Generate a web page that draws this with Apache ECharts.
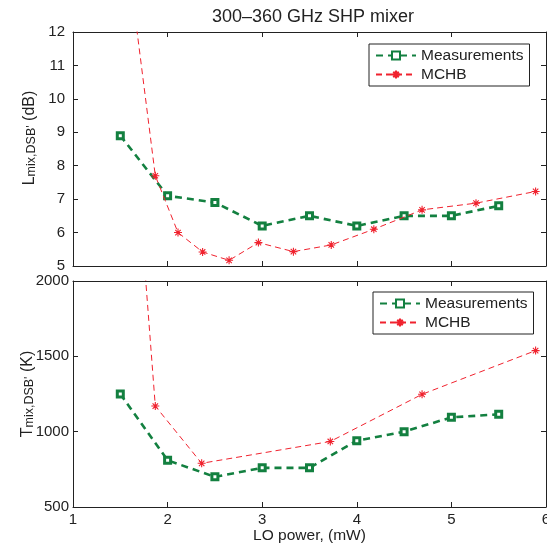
<!DOCTYPE html>
<html>
<head>
<meta charset="utf-8">
<script src="https://cdn.jsdelivr.net/npm/echarts@6/dist/echarts.min.js"></script>
<style>
html,body{margin:0;padding:0;background:#fff;}
#chart{width:547px;height:553px;}
</style>
</head>
<body>
<div id="chart"></div>
<script>
// ---- data ----
const titleText = '300\u2013360 GHz SHP mixer';
const xTicks = [1, 2, 3, 4, 5, 6];
const measX = [1.5, 2, 2.5, 3, 3.5, 4, 4.5, 5, 5.5];
const measLoss = [8.9, 7.1, 6.9, 6.2, 6.5, 6.2, 6.5, 6.5, 6.8];
const measTemp = [1250, 810, 700, 760, 760, 940, 1000, 1095, 1115];
const mchbLossX = [1.66, 1.87, 2.11, 2.37, 2.65, 2.96, 3.33, 3.73, 4.18, 4.69, 5.26, 5.89];
const mchbLoss = [12.4, 7.7, 6.0, 5.42, 5.17, 5.7, 5.43, 5.63, 6.1, 6.68, 6.88, 7.23];
const mchbTempX = [1.66, 1.87, 2.36, 3.72, 4.69, 5.89];
const mchbTemp = [2900, 1170, 790, 935, 1248, 1538];
const seriesNames = ['Measurements', 'MCHB'];

// ---- style ----
const FONT = '"Liberation Sans", Arial, Helvetica, sans-serif';
const GREEN = '#138040';
const RED = '#f0222e';
const AX = '#222';
const STAR = 'path://M5,0L5,10M0,5L10,5M1.6,1.6L8.4,8.4M1.6,8.4L8.4,1.6';

const zip = (xs, ys) => xs.map((x, i) => [x, ys[i]]);

function xAx(grid, pos, showLabels, name) {
  const a = {
    type: 'value', gridIndex: grid, position: pos, min: xTicks[0], max: xTicks[xTicks.length - 1], interval: 1,
    axisLine: {show: true, onZero: false, lineStyle: {color: AX, width: 1}},
    axisTick: {show: true, inside: true, length: 5, lineStyle: {color: AX}},
    axisLabel: {show: showLabels, fontFamily: FONT, fontSize: 15, color: AX, margin: 5,
                formatter: v => String(v)},
    splitLine: {show: false}
  };
  if (name) {
    a.name = name; a.nameLocation = 'middle'; a.nameGap = 21; a.nameMoveOverlap = false;
    a.nameTextStyle = {fontFamily: FONT, fontSize: 15.5, color: AX};
  }
  return a;
}
function yAx(grid, pos, min, max, interval, showLabels, labelMargin, name, gap, shiftUp) {
  const a = {
    type: 'value', gridIndex: grid, position: pos, min: min, max: max, interval: interval,
    axisLine: {show: true, onZero: false, lineStyle: {color: AX, width: 1}},
    axisTick: {show: true, inside: true, length: 5, lineStyle: {color: AX}},
    axisLabel: {show: showLabels, fontFamily: FONT, fontSize: 15, color: AX, margin: labelMargin,
                formatter: v => String(v)},
    splitLine: {show: false}
  };
  if (name) {
    a.name = name; a.nameLocation = 'middle'; a.nameGap = gap; a.nameRotate = 90;
    a.nameMoveOverlap = false;
    a.nameTextStyle = {
      fontFamily: FONT, color: AX,
      padding: [0, 0, 0, shiftUp || 0],
      rich: {
        b: {fontFamily: FONT, fontSize: 16, color: AX, lineHeight: 32, verticalAlign: 'bottom'},
        s: {fontFamily: FONT, fontSize: 12.5, color: AX, lineHeight: 8, verticalAlign: 'bottom'}
      }
    };
  }
  return a;
}
function legendAt(left, top) {
  return {
    data: seriesNames, orient: 'vertical', left: left, top: top,
    backgroundColor: '#fff', borderColor: AX, borderWidth: 1,
    padding: [3, 6, 3, 6], itemWidth: 40, itemHeight: 10, itemGap: 2,
    selectedMode: false,
    textStyle: {fontFamily: FONT, fontSize: 15.5, color: AX, lineHeight: 17}
  };
}
function measSeries(xi, yi, data) {
  return {
    name: seriesNames[0], type: 'line', xAxisIndex: xi, yAxisIndex: yi, data: data,
    symbol: 'rect', symbolSize: 6,
    lineStyle: {color: GREEN, width: 2.6, type: [7, 5]},
    itemStyle: {color: '#fff', borderColor: GREEN, borderWidth: 3},
    z: 2, clip: true
  };
}
function mchbSeries(xi, yi, data) {
  return {
    name: seriesNames[1], type: 'line', xAxisIndex: xi, yAxisIndex: yi, data: data,
    symbol: STAR, symbolSize: 8, symbolKeepAspect: true,
    lineStyle: {color: RED, width: 1, type: [6, 4]},
    itemStyle: {color: RED, borderColor: RED, borderWidth: 1.1},
    z: 3, clip: true
  };
}

const chart = echarts.init(document.getElementById('chart'), null, {renderer: 'canvas'});
chart.setOption({
  animation: false,
  backgroundColor: '#fff',
  title: {
    text: titleText, left: 207, top: 3,
    textStyle: {fontFamily: FONT, fontSize: 18, fontWeight: 'normal', color: AX}
  },
  legend: [legendAt(369, 44), legendAt(373, 292)],
  grid: [
    {left: 73, right: 1, top: 32, height: 234, containLabel: false, outerBoundsMode: 'none'},
    {left: 73, right: 1, top: 281, height: 226, containLabel: false, outerBoundsMode: 'none'}
  ],
  xAxis: [
    xAx(0, 'bottom', false),
    xAx(0, 'top', false),
    xAx(1, 'bottom', true, 'LO power, (mW)'),
    xAx(1, 'top', false)
  ],
  yAxis: [
    yAx(0, 'left', 5, 12, 1, true, 8, "{b|L}{s|mix,DSB'}{b| (dB)}", 35, 22),
    yAx(0, 'right', 5, 12, 1, false, 8),
    yAx(1, 'left', 500, 2000, 500, true, 4, "{b|T}{s|mix,DSB'}{b| (K)}", 37, 0),
    yAx(1, 'right', 500, 2000, 500, false, 4)
  ],
  series: [
    measSeries(0, 0, zip(measX, measLoss)),
    mchbSeries(0, 0, zip(mchbLossX, mchbLoss)),
    measSeries(2, 2, zip(measX, measTemp)),
    mchbSeries(2, 2, zip(mchbTempX, mchbTemp))
  ]
});
</script>
</body>
</html>
